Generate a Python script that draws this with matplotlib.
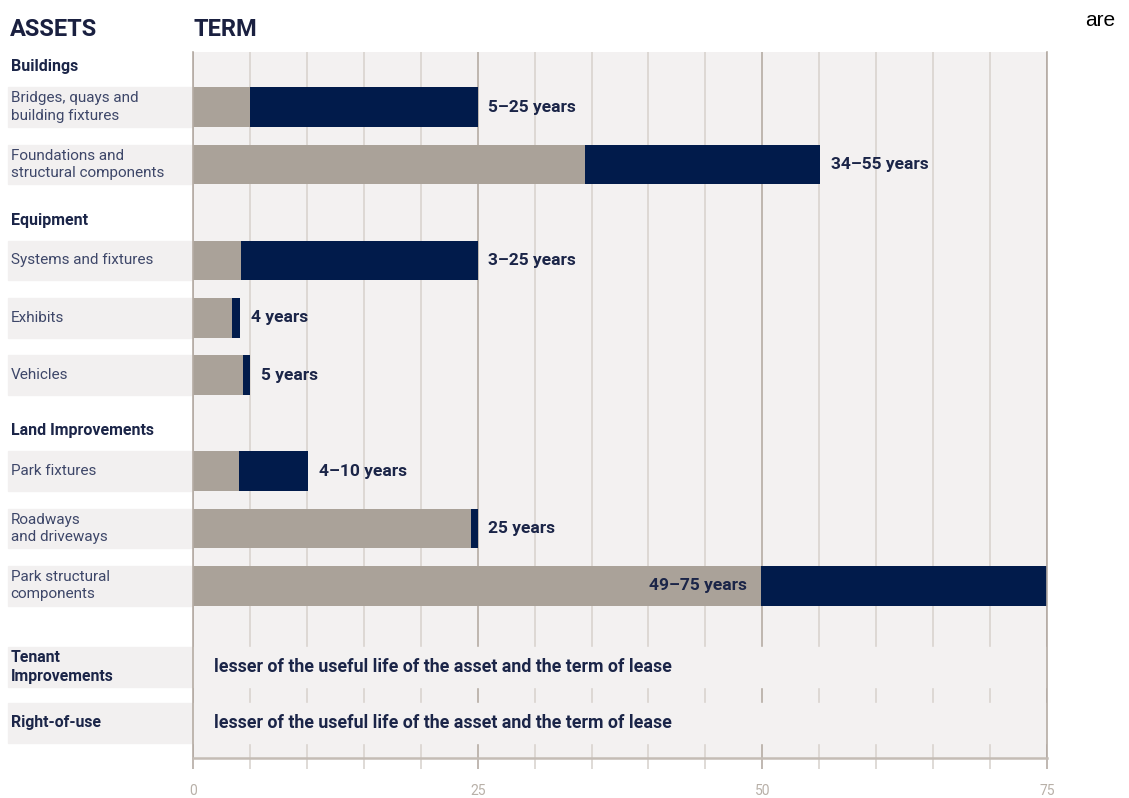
import matplotlib
matplotlib.use("Agg")
import matplotlib.pyplot as plt
from matplotlib.patches import Rectangle
from matplotlib.transforms import blended_transform_factory
from matplotlib import font_manager

# data
groups = ["Buildings", "Equipment", "Land Improvements"]
assets = ["Bridges, quays and\nbuilding fixtures",
          "Foundations and\nstructural components",
          "Systems and fixtures",
          "Exhibits",
          "Vehicles",
          "Park fixtures",
          "Roadways\nand driveways",
          "Park structural\ncomponents"]
asset_group = [0, 0, 1, 1, 1, 2, 2, 2]
term_from = [5.0, 34.4, 4.2, 3.4, 4.4, 4.0, 24.4, 49.9]
term_to = [25.0, 55.1, 25.0, 4.1, 5.0, 10.1, 25.0, 75.0]
term_text = ["5–25 years", "34–55 years", "3–25 years", "4 years", "5 years",
             "4–10 years", "25 years", "49–75 years"]
text_rows = ["Tenant\nImprovements", "Right-of-use"]
text_row_note = "lesser of the useful life of the asset and the term of lease"
x_ticks = [0, 25, 50, 75]

navy = "#011b4b"
taupe = "#aaa299"
bg = "#f3f1f1"
band = "#f2f0f0"
grid_minor = "#d9d4cf"
grid_major = "#b5aca4"
label_col = "#3e4769"
head_col = "#1b2548"

avail = {f.name for f in font_manager.fontManager.ttflist}
def pick(*names):
    for n in names:
        if n in avail:
            return n
    return "DejaVu Sans"
body_font = pick("Roboto", "Lato", "DejaVu Sans")
narrow_font = pick("Liberation Sans Narrow", "Roboto", "DejaVu Sans")

# row layout (units of one row step)
ypos_group, ypos_asset = [], []
y = 0.26
last = None
for g in asset_group:
    if g != last:
        if last is not None:
            y += 0.97
        ypos_group.append(y)
        y += 0.70
        last = g
    else:
        y += 1.0
    ypos_asset.append(y)
y += 1.41
ypos_text = [y, y + 0.98]
y_bottom = ypos_text[-1] + 0.61

fig = plt.figure(figsize=(11.29, 7.98), dpi=100)
ax = fig.add_axes([193 / 1129, 40 / 798, 854 / 1129, 706 / 798])
ax.set_facecolor(bg)
ax.set_xlim(0, 75)
ax.set_ylim(y_bottom, 0)
ax.set_axisbelow(True)

ax.set_xticks(x_ticks)
ax.set_xticks([v for v in range(5, 75, 5) if v not in x_ticks], minor=True)
ax.set_yticks([])
ax.grid(axis="x", which="major", color=grid_major, lw=1.2)
ax.grid(axis="x", which="minor", color=grid_minor, lw=1.2)
ax.tick_params(axis="x", which="major", length=8, width=1.2, color=grid_major,
               labelcolor="#b8b0a8", labelsize=10, pad=11)
ax.tick_params(axis="x", which="minor", length=8, width=1.2, color=grid_minor)
for lab in ax.get_xticklabels():
    lab.set_family(narrow_font)
ax.spines["top"].set_visible(False)
for s in ["left", "right"]:
    ax.spines[s].set_color(grid_major)
    ax.spines[s].set_linewidth(1.2)
ax.spines["bottom"].set_color("#c4bcb5")
ax.spines["bottom"].set_linewidth(1.8)

h = 0.69
ax.barh(ypos_asset, term_from, height=h, color=taupe, zorder=2)
ax.barh(ypos_asset, [b - a for a, b in zip(term_from, term_to)], left=term_from,
        height=h, color=navy, zorder=2)
for yy, a, b, t in zip(ypos_asset, term_from, term_to, term_text):
    if b >= 75:
        ax.text(a - 1.3, yy, t, ha="right", va="center", color=head_col,
                fontsize=12.5, fontweight="bold", family=body_font, zorder=3)
    else:
        ax.text(b + 0.95, yy, t, ha="left", va="center", color=head_col,
                fontsize=12.5, fontweight="bold", family=body_font, zorder=3)

for yy in ypos_text:
    ax.add_patch(Rectangle((0, yy - h / 2), 75, h, color=bg, zorder=1))
    ax.text(1.85, yy, text_row_note, ha="left", va="center", color=head_col,
            fontsize=12.8, fontweight="bold", family=body_font, zorder=3)

# label column
tr = blended_transform_factory(ax.transAxes, ax.transData)
x0 = -185 / 854
for yy in ypos_asset + ypos_text:
    ax.add_patch(Rectangle((x0, yy - h / 2), -x0 - 0.001, h, transform=tr,
                           color=band, clip_on=False, zorder=1))
for yy, t in zip(ypos_asset, assets):
    ax.text(x0 + 0.003, yy, t, transform=tr, ha="left", va="center",
            color=label_col, fontsize=11, family=body_font, linespacing=1.3)
for yy, t in zip(ypos_group, groups):
    ax.text(x0 + 0.003, yy, t, transform=tr, ha="left", va="center",
            color=head_col, fontsize=11.5, fontweight="bold", family=body_font)
for yy, t in zip(ypos_text, text_rows):
    ax.text(x0 + 0.003, yy, t, transform=tr, ha="left", va="center",
            color=head_col, fontsize=11.3, fontweight="bold", family=body_font,
            linespacing=1.3)

fig.text(10 / 1129, 1 - 30 / 798, "ASSETS", ha="left", va="center", color="#1a2040",
         fontsize=17, fontweight="bold", family=narrow_font)
fig.text(193 / 1129, 1 - 30 / 798, "TERM", ha="left", va="center", color="#1a2040",
         fontsize=17, fontweight="bold", family=narrow_font)
fig.text(1085 / 1129, 1 - 20 / 798, "are", ha="left", va="center", color="black",
         fontsize=15, family=pick("Liberation Sans", "DejaVu Sans"))

fig.savefig("out.png", dpi=100)
